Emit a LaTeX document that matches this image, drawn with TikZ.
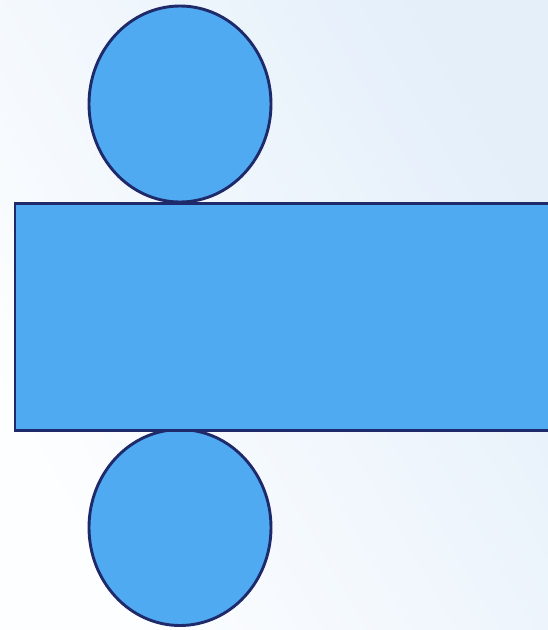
\documentclass[tikz,border=0pt]{standalone}
\usetikzlibrary{shapes.geometric}
\definecolor{shapefill}{HTML}{4FAAF1}
\definecolor{shapeline}{HTML}{1E2A6A}
\definecolor{bgA}{HTML}{FDFEFF}
\definecolor{bgB}{HTML}{E4EFFA}
\tikzset{
  face/.style={fill=shapefill, draw=shapeline, line width=2.9pt, inner sep=0pt},
  disc/.style={face, ellipse, minimum width=182pt, minimum height=196pt}
}
\begin{document}
\begin{tikzpicture}[x=1pt,y=-1pt]
\useasboundingbox (0,0) rectangle (548,630);
\clip (0,0) rectangle (548,630);
\shade[bottom color=bgA, top color=bgB, shading angle=-60] (0,0) rectangle (548,630);
\node[disc] (top) at (180,104) {};
\node[disc] (bottom) at (180,527.5) {};
\node[face, rectangle, minimum width=556pt, minimum height=227pt, anchor=north west] (band) at (13.5,202) {};
\end{tikzpicture}
\end{document}
